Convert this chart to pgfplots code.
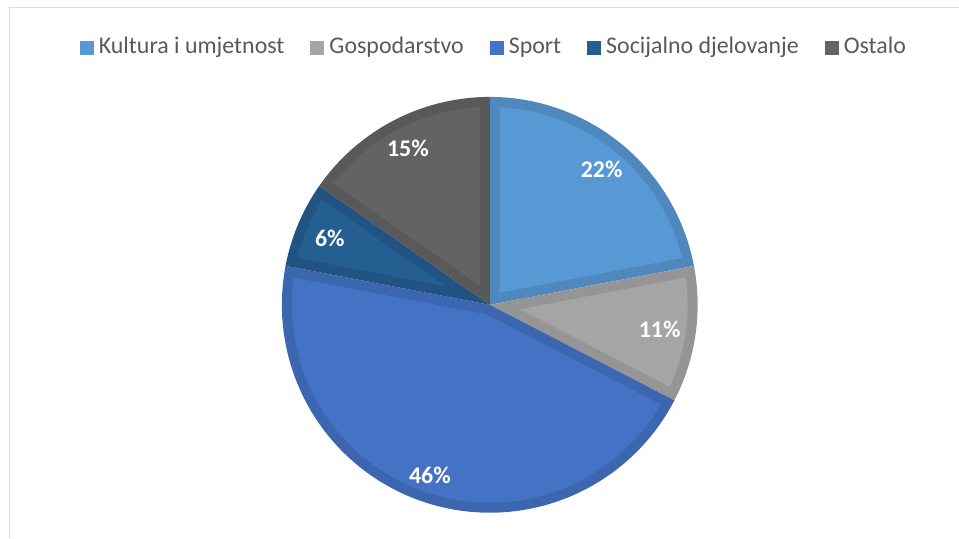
\documentclass[border=0pt]{standalone}
\usepackage{pgfplots}
\pgfplotsset{compat=1.18}
\usepackage{fontspec}
\setmainfont{Carlito}
\definecolor{kulL}{HTML}{5898D4}
\definecolor{kulD}{HTML}{4F88BD}
\definecolor{gosL}{HTML}{A5A5A5}
\definecolor{gosD}{HTML}{959595}
\definecolor{spoL}{HTML}{4472C4}
\definecolor{spoD}{HTML}{3D66B0}
\definecolor{socL}{HTML}{255E91}
\definecolor{socD}{HTML}{215483}
\definecolor{ostL}{HTML}{636363}
\definecolor{ostD}{HTML}{595959}
\definecolor{txt}{HTML}{595959}
\def\dd{0.048}
\def\dl{2.89}
% #1 cumulative share before, #2 share, #3 border colour, #4 fill colour, #5 name
\newcommand{\slice}[5]{%
  \addplot[forget plot, fill=#3, draw=none, domain=-0.05:1.05, samples=111, variable=\t]
   ({(\t < -0.005 || \t > 1.005) ? 0 : cos(90-3.6*(#1)-3.6*(#2)*\t)},
    {(\t < -0.005 || \t > 1.005) ? 0 : sin(90-3.6*(#1)-3.6*(#2)*\t)});
  \addplot[fill=#4, draw=none, domain=-0.05:1.05, samples=111, variable=\t]
   ({(\t < -0.005 || \t > 1.005) ? \dd/sin(1.8*(#2))*cos(90-3.6*(#1)-1.8*(#2)) : (1-\dd)*cos(90-3.6*(#1)-\dl-(3.6*(#2)-2*\dl)*\t)},
    {(\t < -0.005 || \t > 1.005) ? \dd/sin(1.8*(#2))*sin(90-3.6*(#1)-1.8*(#2)) : (1-\dd)*sin(90-3.6*(#1)-\dl-(3.6*(#2)-2*\dl)*\t)});
  \addlegendentry{#5}
}
\begin{document}
\begin{tikzpicture}
\begin{axis}[
  x=208bp, y=208bp,
  xmin=-2.3558, xmax=2.2548, ymin=-1.1202, ymax=1.4663,
  hide axis, clip=false,
  legend columns=-1,
  legend image code/.code={\fill[#1] (0bp,-7bp) rectangle (14bp,7bp);},
  legend style={draw=none, fill=none, at={(axis cs:0.02,1.237)}, anchor=center,
    font=\fontsize{24}{28}\selectfont, text=txt,
    /tikz/every even column/.append style={column sep=24bp},
    /tikz/every odd column/.append style={column sep=3bp},
    nodes={inner sep=2bp, text height=17bp, text depth=5bp}},
]
\slice{0}{22}{kulD}{kulL}{Kultura i umjetnost}
\slice{22}{10.6}{gosD}{gosL}{Gospodarstvo}
\slice{32.6}{45.4}{spoD}{spoL}{Sport}
\slice{78}{6.7}{socD}{socL}{Socijalno djelovanje}
\slice{84.7}{15.3}{ostD}{ostL}{Ostalo}
\path (axis cs:-2.3558,-1.1202) rectangle (axis cs:2.2548,1.4663);
\draw[color=black!15, line width=1bp] (axis cs:2.2548,1.4279) -- (axis cs:-2.310,1.4279) -- (axis cs:-2.310,-1.1202);
\begin{scope}[every node/.style={font=\bfseries\fontsize{24}{28}\selectfont, text=white}]
\node at (axis cs:0.538,0.651) {22\%};
\node at (axis cs:0.817,-0.118) {11\%};
\node at (axis cs:-0.288,-0.822) {46\%};
\node at (axis cs:-0.769,0.322) {6\%};
\node at (axis cs:-0.394,0.755) {15\%};
\end{scope}
\end{axis}
\end{tikzpicture}
\end{document}
